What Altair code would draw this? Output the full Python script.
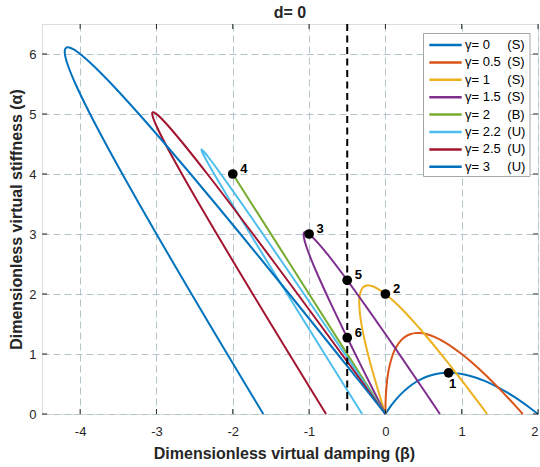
import altair as alt
import pandas as pd

FONT = "Liberation Sans"
INK = "#262626"
GRID = "#b3c5c8"

# ---- axis ticks ----
beta_ticks = [-4, -3, -2, -1, 0, 1, 2]
alpha_ticks = [0, 1, 2, 3, 4, 5, 6]

# ---- stability boundary of each gamma: beta = virtual damping, alpha = virtual stiffness ----
g00_beta = [0.0, 0.05, 0.1, 0.2, 0.3, 0.4, 0.5, 0.6, 0.7, 0.8, 0.9, 1.0, 1.1, 1.2, 1.3, 1.4,
            1.5, 1.6, 1.7, 1.8, 1.9, 2.0]
g00_alpha = [0.0, 0.095, 0.181, 0.327, 0.443, 0.533, 0.600, 0.646, 0.674, 0.686, 0.683, 0.667,
             0.639, 0.600, 0.552, 0.494, 0.429, 0.356, 0.276, 0.189, 0.097, 0.0]

g05_beta = [0.0, 0.0017, 0.0063, 0.0161, 0.0327, 0.0529, 0.1, 0.1385, 0.2045, 0.2571, 0.3333,
            0.385, 0.45, 0.5333, 0.6429, 0.7912, 1.0, 1.1383, 1.3091, 1.5238, 1.6807, 1.8]
g05_alpha = [0.0, 0.168, 0.315, 0.482, 0.655, 0.794, 1.0, 1.108, 1.227, 1.286, 1.333,
             1.348, 1.35, 1.333, 1.286, 1.187, 1.0, 0.854, 0.655, 0.381, 0.168, 0.0]

g10_beta = [1.3333, 1.1624, 1.0286, 0.9212, 0.8333, 0.6984, 0.6, 0.4667, 0.381, 0.2778, 0.1795,
            0.0949, 0.0392, 0.0, -0.0408, -0.1046, -0.1778, -0.2143, -0.2381, -0.2667, -0.3,
            -0.3333, -0.3394, -0.3429, -0.3333, -0.3117, -0.2885, -0.2667, -0.2206, -0.1778,
            -0.0866, -0.0465, 0.0]
g10_alpha = [0.0, 0.2906, 0.5143, 0.6909, 0.8333, 1.0476, 1.2, 1.4, 1.5238, 1.6667, 1.7949,
             1.8972, 1.9594, 2.0, 2.039, 2.0915, 2.1333, 2.1429, 2.1429, 2.1333, 2.1,
             2.0, 1.9515, 1.8857, 1.6667, 1.4805, 1.327, 1.2, 0.9598, 0.7556,
             0.355, 0.1882, 0.0]

g15_beta = [0.7143, 0.6308, 0.5647, 0.4667, 0.3462, 0.275, 0.1948, 0.1126, 0.0611, 0.0,
            -0.0734, -0.163, -0.3182, -0.4167, -0.4923, -0.6, -0.7619, -0.8727, -1.0, -1.0242,
            -1.0458, -1.0626, -1.0714, -1.0667, -1.039, -0.9717, -0.8333, -0.7196, -0.5594,
            -0.3312, -0.148, 0.0]
g15_alpha = [0.0, 0.1577, 0.2824, 0.4667, 0.6923, 0.825, 0.974, 1.1261, 1.2212, 1.3333,
             1.4675, 1.63, 1.9091, 2.0833, 2.2154, 2.4, 2.6667, 2.8364, 3.0, 3.0213,
             3.0327, 3.0285, 3.0, 2.9333, 2.8052, 2.5749, 2.1667, 1.853, 1.4266,
             0.8363, 0.3715, 0.0]

g20_beta = [0.0, -1.0, -2.0]
g20_alpha = [0.0, 2.0, 4.0]

g22_beta = [-0.3048, -0.5508, -0.7964, -1.0415, -1.2857, -1.5289, -1.7706, -2.0098, -2.2436,
            -2.3333, -2.3757, -2.3952, -2.4095, -2.4101, -2.4, -2.3632, -2.3315, -2.2714,
            -2.1564, -1.8783, -1.6056, -1.3354, -1.0667, -0.799, -0.5321, -0.2658, 0.0]
g22_alpha = [0.0, 0.5, 1.0, 1.5, 2.0, 2.5, 3.0, 3.5, 4.0,
             4.2, 4.3, 4.35, 4.4, 4.4105, 4.4, 4.35, 4.3, 4.2,
             4.0, 3.5, 3.0, 2.5, 2.0, 1.5, 1.0, 0.5, 0.0]

g25_beta = [-0.7778, -1.0195, -1.2603, -1.5, -1.7384, -1.9751, -2.2096, -2.4407, -2.6667,
            -2.8826, -3.0, -3.0333, -3.0471, -3.0556, -3.0541, -3.0433, -3.0226, -3.0,
            -2.9557, -2.9167, -2.8444, -2.6452, -2.3333, -2.0315, -1.7349, -1.4415, -1.1505,
            -0.8611, -0.5731, -0.2861, 0.0]
g25_alpha = [0.0, 0.5, 1.0, 1.5, 2.0, 2.5, 3.0, 3.5, 4.0,
             4.5, 4.8, 4.9, 4.95, 5.0, 5.02, 5.0294, 5.02, 5.0,
             4.95, 4.9, 4.8, 4.5, 4.0, 3.5, 3.0, 2.5, 2.0,
             1.5, 1.0, 0.5, 0.0]

g30_beta = [-1.6, -1.837, -2.0728, -2.3074, -2.5403, -2.7713, -3.0, -3.2256, -3.4472, -3.6631,
            -3.8702, -4.0609, -4.1576, -4.1929, -4.2, -4.2017, -4.1971, -4.187, -4.1613, -4.123,
            -4.0909, -4.0533, -4.0, -3.9521, -3.8224, -3.5892, -3.2298, -2.8869, -2.5528,
            -2.2244, -1.9, -1.5787, -1.2597, -0.9426, -0.6272, -0.313, 0.0]
g30_alpha = [0.0, 0.5, 1.0, 1.5, 2.0, 2.5, 3.0, 3.5, 4.0, 4.5,
             5.0, 5.5, 5.8, 5.95, 6.0, 6.05, 6.08, 6.1, 6.1115, 6.1,
             6.08, 6.05, 6.0, 5.95, 5.8, 5.5, 5.0, 4.5, 4.0,
             3.5, 3.0, 2.5, 2.0, 1.5, 1.0, 0.5, 0.0]

# ---- series names, status and line colours ----
gamma_labels = ["γ= 0", "γ= 0.5", "γ= 1", "γ= 1.5", "γ= 2", "γ= 2.2", "γ= 2.5", "γ= 3"]
status_labels = ["(S)", "(S)", "(S)", "(S)", "(B)", "(U)", "(U)", "(U)"]
line_colors = ["#0072BD", "#D95319", "#EDB120", "#7E2F8E", "#77AC30", "#4DBEEE", "#A2142F", "#0072BD"]
curves = [
    (g00_beta, g00_alpha), (g05_beta, g05_alpha), (g10_beta, g10_alpha), (g15_beta, g15_alpha),
    (g20_beta, g20_alpha), (g22_beta, g22_alpha), (g25_beta, g25_alpha), (g30_beta, g30_alpha),
]

# ---- marked operating points ----
pt_id = [1, 2, 3, 4, 5, 6]
pt_beta = [0.8284, 0.0, -1.0, -2.0, -0.5, -0.5]
pt_alpha = [0.6863, 2.0, 3.0, 4.0, 2.2287, 1.2713]

# ---- vertical reference: damping limit ----
damping_limit = [-0.5]

chart_title = "d= 0"

W, H = 496, 390

x_scale = alt.Scale(domain=[-4.5, 2], nice=False, zero=False)
y_scale = alt.Scale(domain=[0, 6.5], nice=False, zero=False)

x_axis = alt.Axis(
    values=beta_ticks, labelExpr="'' + datum.value",
    title="Dimensionless virtual damping (β)",
    grid=True, gridDash=[7, 4], gridColor=GRID, gridWidth=1,
    ticks=False, tickSize=0, domain=False,
    labelFont=FONT, labelFontSize=13, labelColor=INK, labelPadding=11,
    titleFont=FONT, titleFontSize=16, titleFontWeight="bold", titleColor=INK,
    titleBaseline="alphabetic", titleAlign="center", titleX=242, titleY=44,
)
y_axis = alt.Axis(
    values=alpha_ticks, labelExpr="'' + datum.value",
    title="Dimensionless virtual stiffness (α)",
    grid=True, gridDash=[7, 4], gridColor=GRID, gridWidth=1,
    ticks=False, tickSize=0, domain=False,
    labelFont=FONT, labelFontSize=13, labelColor=INK, labelPadding=6,
    titleFont=FONT, titleFontSize=16, titleFontWeight="bold", titleColor=INK,
    titleBaseline="alphabetic", titleAlign="center", titleAngle=-90, titleX=-21, titleY=195,
)


def X(field):
    return alt.X(field, scale=x_scale, axis=x_axis)


def Y(field):
    return alt.Y(field, scale=y_scale, axis=y_axis)


layers = []
for (b, a), col in zip(curves, line_colors):
    df = pd.DataFrame({"beta": b, "alpha": a, "i": list(range(len(b)))})
    layers.append(
        alt.Chart(df).mark_line(color=col, strokeWidth=2, interpolate="catmull-rom").encode(
            x=X("beta:Q"), y=Y("alpha:Q"), order="i:Q",
        )
    )

# dashed vertical line at beta = -0.5
layers.append(
    alt.Chart(pd.DataFrame({"beta": damping_limit})).mark_rule(
        color="black", strokeWidth=2, strokeDash=[7, 4.5]
    ).encode(x=X("beta:Q"))
)

# inward tick marks on all four sides of the box
xt = pd.DataFrame({"beta": beta_ticks})
yt = pd.DataFrame({"alpha": alpha_ticks})
layers += [
    alt.Chart(xt).mark_rule(color=INK).encode(x=X("beta:Q"), y=alt.value(H), y2=alt.value(H - 5)),
    alt.Chart(xt).mark_rule(color=INK).encode(x=X("beta:Q"), y=alt.value(0), y2=alt.value(5)),
    alt.Chart(yt).mark_rule(color=INK).encode(y=Y("alpha:Q"), x=alt.value(0), x2=alt.value(5)),
    alt.Chart(yt).mark_rule(color=INK).encode(y=Y("alpha:Q"), x=alt.value(W), x2=alt.value(W - 5)),
]

# marked points and their numbers
pts = pd.DataFrame({"id": pt_id, "beta": pt_beta, "alpha": pt_alpha})
layers.append(
    alt.Chart(pts).mark_circle(size=95, color="black", opacity=1).encode(x=X("beta:Q"), y=Y("alpha:Q"))
)
layers.append(
    alt.Chart(pts).transform_filter("datum.id != 1").mark_text(
        font=FONT, fontSize=13, fontWeight="bold", color="black",
        align="left", baseline="middle", dx=7.5, dy=-5,
    ).encode(x=X("beta:Q"), y=Y("alpha:Q"), text="id:N")
)
layers.append(
    alt.Chart(pts).transform_filter("datum.id == 1").mark_text(
        font=FONT, fontSize=13, fontWeight="bold", color="black",
        align="center", baseline="middle", dx=4, dy=11,
    ).encode(x=X("beta:Q"), y=Y("alpha:Q"), text="id:N")
)

# legend box drawn in pixel space
leg = pd.DataFrame({
    "name": gamma_labels, "status": status_labels, "color": line_colors,
    "row": list(range(len(gamma_labels))),
})
leg_base = alt.Chart(leg).transform_calculate(ly="21 + 17.4 * datum.row")
layers += [
    alt.Chart(pd.DataFrame({"k": [0]})).mark_rect(
        fill="white", stroke="#a6a6a6", strokeWidth=1
    ).encode(x=alt.value(381.5), x2=alt.value(488), y=alt.value(9.5), y2=alt.value(152.5)),
    leg_base.mark_rule(strokeWidth=2.5).encode(
        x=alt.value(387.3), x2=alt.value(419.7),
        y=alt.Y("ly:Q", scale=None, axis=None),
        color=alt.Color("color:N", scale=None),
    ),
    leg_base.mark_text(font=FONT, fontSize=13, color="black", align="left", baseline="middle").encode(
        x=alt.value(423), y=alt.Y("ly:Q", scale=None, axis=None), text="name:N"),
    leg_base.mark_text(font=FONT, fontSize=13, color="black", align="left", baseline="middle").encode(
        x=alt.value(465.3), y=alt.Y("ly:Q", scale=None, axis=None), text="status:N"),
]

# panel title above the plot box
layers.append(
    alt.Chart(pd.DataFrame({"t": [chart_title]})).mark_text(
        font=FONT, fontSize=16, fontWeight="bold", color=INK, align="center", baseline="alphabetic",
    ).encode(x=alt.value(W / 2), y=alt.value(-6), text="t:N")
)

chart = alt.layer(*layers).properties(
    width=W, height=H,
    autosize=alt.AutoSizeParams(type="none"),
    padding={"left": 42, "top": 24, "right": 2, "bottom": 53},
).configure_view(stroke=INK, strokeWidth=1).configure(font=FONT, background="white")

chart.save("out.html", embed_options={"renderer": "svg", "actions": False})
